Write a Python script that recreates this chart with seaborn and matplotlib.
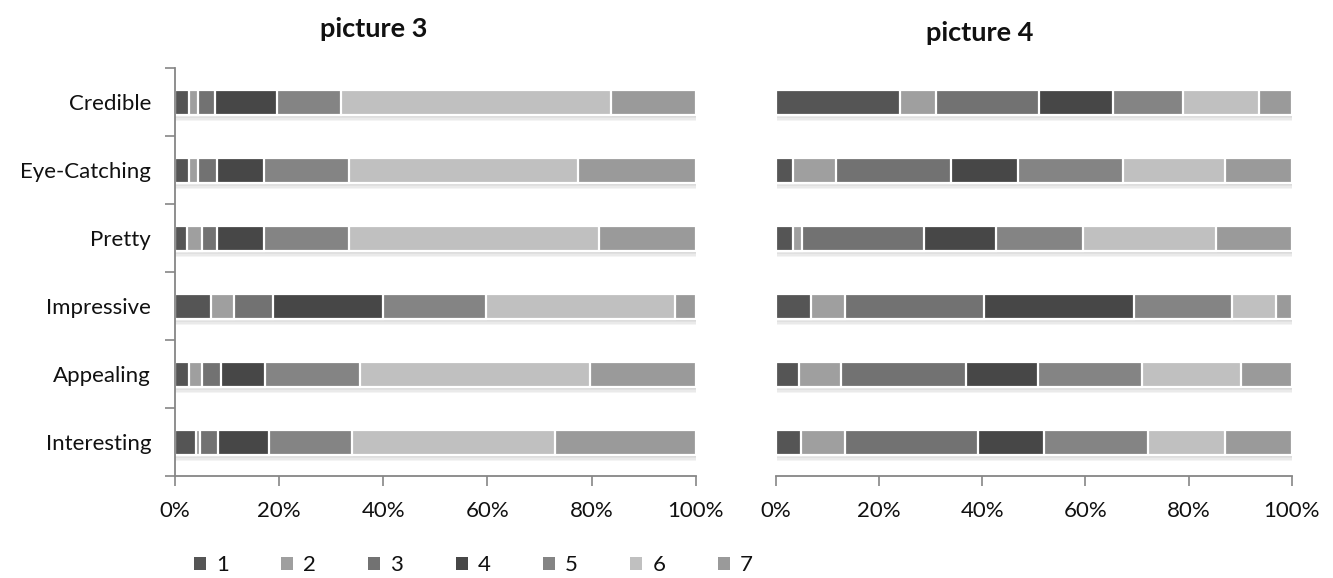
import matplotlib
matplotlib.use("Agg")
import matplotlib.pyplot as plt
import matplotlib.patheffects as pe
from matplotlib.patches import Patch
import numpy as np
import pandas as pd
import seaborn as sns

# Attributes rated, top to bottom
attributes = ["Credible", "Eye-Catching", "Pretty", "Impressive", "Appealing", "Interesting"]
levels = ["1", "2", "3", "4", "5", "6", "7"]

# Share of answers (%) per rating level, one row per attribute
picture3 = [
    [2.8, 1.6, 3.3, 11.9, 12.3, 51.8, 16.3],
    [2.8, 1.6, 3.7, 9.1, 16.3, 43.9, 22.6],
    [2.4, 2.9, 2.8, 9.1, 16.3, 47.9, 18.6],
    [6.9, 4.4, 7.5, 21.1, 19.9, 36.2, 4.0],
    [2.8, 2.5, 3.6, 8.4, 18.2, 44.2, 20.3],
    [4.1, 0.8, 3.5, 9.7, 15.9, 38.9, 27.1],
]
picture4 = [
    [24.0, 7.1, 20.0, 14.2, 13.6, 14.7, 6.4],
    [3.3, 8.4, 22.3, 13.0, 20.3, 19.7, 13.0],
    [3.3, 1.7, 23.7, 14.0, 16.8, 25.8, 14.7],
    [6.9, 6.5, 26.9, 29.1, 19.1, 8.4, 3.1],
    [4.5, 8.1, 24.2, 14.0, 20.2, 19.2, 9.8],
    [4.9, 8.5, 25.7, 12.8, 20.3, 14.8, 13.0],
]
titles = ["picture 3", "picture 4"]

level_colors = ["#555555", "#9f9f9f", "#727272", "#474747", "#848484", "#c0c0c0", "#9a9a9a"]
axis_grey = "#868686"

sns.set_theme(style="white")
plt.rcParams["font.family"] = ["Lato", "DejaVu Sans"]

# soft drop shadow under each bar, built from stacked faint offsets
soft_shadow = [pe.SimplePatchShadow(offset=(0.6, -k), shadow_rgbFace="#606060", alpha=0.065)
               for k in (1.0, 1.8, 2.6, 3.4, 4.2)] + [pe.Normal()]


def long_form(shares):
    arr = np.array(shares, dtype=float)
    arr = arr / arr.sum(axis=1, keepdims=True) * 100.0
    cum = np.cumsum(arr, axis=1)
    rows = []
    for i, a in enumerate(attributes):
        for j, lv in enumerate(levels):
            rows.append({"attribute": a, "level": lv, "share": arr[i, j], "cum": cum[i, j]})
    return pd.DataFrame(rows)


def stacked(ax, shares, show_labels):
    df = long_form(shares)
    # Draw cumulative bars from the longest to the shortest so each level
    # shows as its own segment of a 100% stacked bar
    for j in reversed(range(len(levels))):
        sub = df[df["level"] == levels[j]]
        n_before = len(ax.patches)
        sns.barplot(data=sub, x="cum", y="attribute", order=attributes, orient="h",
                    color=level_colors[j], saturation=1, width=0.37,
                    edgecolor="white", linewidth=1.6, ax=ax, errorbar=None)
        if j == len(levels) - 1:
            for p in ax.patches[n_before:]:
                p.set_path_effects(soft_shadow)
    ax.set_xlim(0, 100)
    ax.set_ylim(len(attributes) - 0.5, -0.5)
    ax.set_xticks(np.arange(0, 101, 20))
    ax.set_xticklabels([f"{v}%" for v in range(0, 101, 20)])
    ax.set_xlabel("")
    ax.set_ylabel("")
    ax.tick_params(axis="x", direction="out", length=7, width=1.2, color=axis_grey,
                   labelsize=16, pad=11, bottom=True, labelcolor="#111111")
    for s in ["top", "right"]:
        ax.spines[s].set_visible(False)
    ax.spines["bottom"].set_color(axis_grey)
    ax.spines["bottom"].set_linewidth(1.3)
    if show_labels:
        ax.set_yticks(np.arange(-0.5, len(attributes) + 0.5, 1), minor=False)
        ax.set_yticklabels([])
        ax.set_yticks(np.arange(len(attributes)), minor=True)
        ax.set_yticklabels(attributes, minor=True)
        ax.tick_params(axis="y", which="major", direction="out", length=7, width=1.2,
                       color=axis_grey, left=True)
        ax.tick_params(axis="y", which="minor", length=0, labelsize=16, pad=17,
                       labelcolor="#111111")
        ax.spines["left"].set_color(axis_grey)
        ax.spines["left"].set_linewidth(1.3)
    else:
        ax.set_yticks([])
        ax.spines["left"].set_visible(False)


fig = plt.figure(figsize=(13.33, 5.78), dpi=100)
ax_left = fig.add_axes([0.131, 0.176, 0.391, 0.706])
ax_right = fig.add_axes([0.582, 0.176, 0.387, 0.706])

stacked(ax_left, picture3, True)
stacked(ax_right, picture4, False)

fig.text(0.280, 0.950, titles[0], ha="center", va="center", fontsize=19.5, fontweight="bold",
         color="#111111")
fig.text(0.735, 0.943, titles[1], ha="center", va="center", fontsize=19.5, fontweight="bold",
         color="#111111")

handles = [Patch(facecolor=c, edgecolor="none", label=lv) for c, lv in zip(level_colors, levels)]
fig.legend(handles=handles, loc="center", bbox_to_anchor=(0.355, 0.022), ncol=7, frameon=False,
           fontsize=16, handlelength=0.55, handleheight=0.55, handletextpad=0.45,
           columnspacing=2.35, labelcolor="#111111")

fig.savefig("out.png", dpi=100)
